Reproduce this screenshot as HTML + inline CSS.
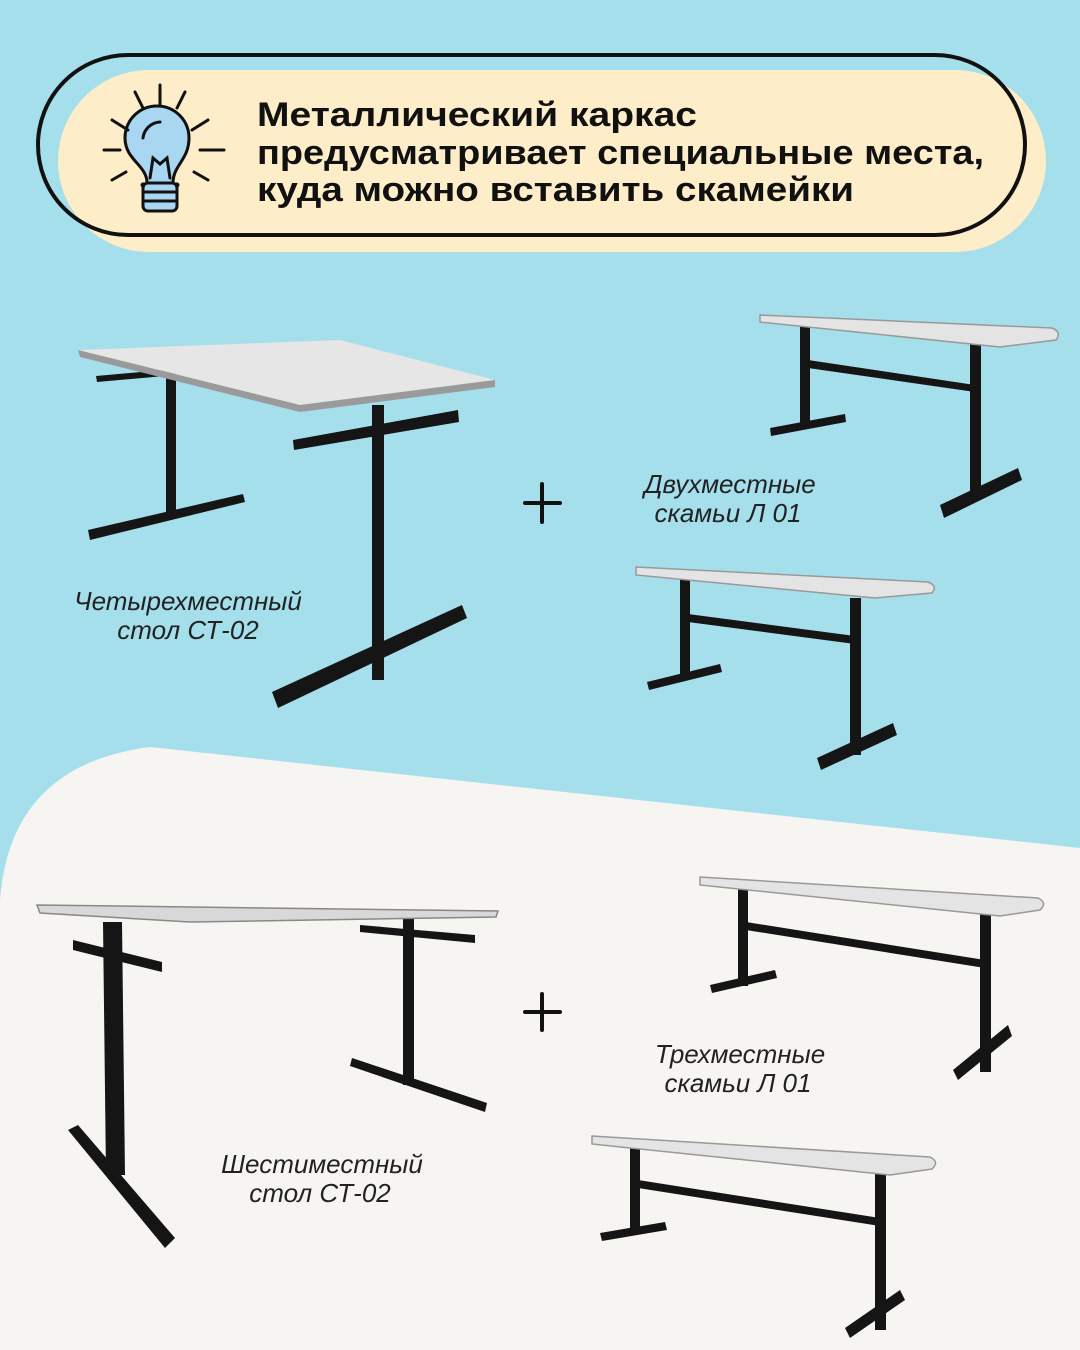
<!DOCTYPE html>
<html><head><meta charset="utf-8"><style>
html,body{margin:0;padding:0;width:1080px;height:1350px;overflow:hidden;background:#a6dfec;}
svg{display:block}
</style></head><body>
<svg width="1080" height="1350" viewBox="0 0 1080 1350" xmlns="http://www.w3.org/2000/svg">
<rect width="1080" height="1350" fill="#a6dfec"/>
<path d="M0,1350 L0,900 Q10,765 150,747 L1080,848 L1080,1350 Z" fill="#f6f5f2"/>
<!-- header -->
<rect x="58" y="70" width="988" height="182" rx="91" fill="#fdedc8"/>
<rect x="38" y="55" width="987" height="180" rx="90" fill="none" stroke="#111" stroke-width="4"/>
<g font-family="Liberation Sans, sans-serif" font-weight="bold" font-size="34" fill="#111">
<text x="257" y="126" textLength="440" lengthAdjust="spacingAndGlyphs">Металлический каркас</text>
<text x="257" y="164" textLength="727" lengthAdjust="spacingAndGlyphs">предусматривает специальные места,</text>
<text x="257" y="201" textLength="597" lengthAdjust="spacingAndGlyphs">куда можно вставить скамейки</text>
</g>
<!-- bulb -->
<g stroke="#111" stroke-width="3" fill="none" stroke-linecap="round">
<path d="M147,183 C147,165 125,160 125,138 A32,32 0 0 1 189,138 C189,160 173,165 173,183 Z" fill="#a9d6f0"/>
<path d="M143,185 h34 M145,195 h30 M148,205 h24" stroke-width="5"/>
<rect x="143" y="183" width="34" height="28" rx="5" fill="#a9d6f0"/>
<path d="M143,192 h34 M143,201 h34"/>
<path d="M150,178 L153,158 L160,164 L167,158 L170,178"/>
<path d="M143,138 A18,18 0 0 1 160,122"/>
<path d="M160,85 v20 M135,92 l8,16 M185,92 l-8,16 M112,120 l16,10 M208,120 l-16,10 M104,150 h16 M200,150 h24 M112,180 l14,-8 M208,180 l-14,-8"/>
</g>
<!-- table 1 -->
<g fill="#151515">
<polygon points="96,376 175,369 176,375 97,382"/>
<rect x="166" y="372" width="10" height="140"/>
<polygon points="88,530 243,494 245,502 90,540"/>
<polygon points="293,440 458,410 459,422 294,450"/>
<rect x="372" y="405" width="12" height="275"/>
<polygon points="272,692 462,605 467,618 278,708"/>
</g>
<polygon points="78,350 340,340 495,380 300,405" fill="#e6e6e6"/>
<polygon points="78,350 300,405 495,380 495,387 300,412 80,357" fill="#9a9a9a"/>
<!-- bench 1 -->
<g fill="#151515">
<rect x="800" y="322" width="10" height="105"/>
<polygon points="770,428 845,414 846,422 771,436"/>
<rect x="970" y="340" width="11" height="160"/>
<polygon points="940,505 1018,468 1022,480 944,518"/>
<polygon points="808,360 975,385 975,392 808,368"/>
</g>
<path d="M760,315 L1052,328 Q1062,332 1056,340 L1000,347 L760,322 Z" fill="#e4e4e4" stroke="#999" stroke-width="1.5"/>
<!-- bench 2 -->
<g fill="#151515">
<rect x="680" y="575" width="10" height="105"/>
<polygon points="647,682 720,664 722,672 649,690"/>
<rect x="850" y="598" width="11" height="157"/>
<polygon points="817,758 893,723 897,735 821,770"/>
<polygon points="688,614 855,636 855,644 688,622"/>
</g>
<path d="M636,567 L928,582 Q938,586 932,593 L875,598 L636,575 Z" fill="#e4e4e4" stroke="#999" stroke-width="1.5"/>
<!-- table 2 -->
<g fill="#151515">
<polygon points="73,940 162,962 162,972 73,950"/>
<polygon points="103,922 122,922 125,1175 106,1175"/>
<polygon points="68,1130 78,1125 175,1238 165,1248"/>
<polygon points="360,925 475,935 475,943 360,932"/>
<rect x="403" y="918" width="11" height="167"/>
<polygon points="352,1058 487,1103 485,1112 350,1066"/>
</g>
<path d="M37,905 L498,911 L496,917 L190,922 L40,913 Z" fill="#d8d8d8" stroke="#888" stroke-width="1.5"/>
<!-- bench 3 -->
<g fill="#151515">
<rect x="738" y="888" width="10" height="98"/>
<polygon points="710,985 775,970 777,978 712,993"/>
<rect x="980" y="912" width="11" height="160"/>
<polygon points="953,1070 1008,1025 1012,1036 958,1080"/>
<polygon points="746,922 985,960 985,968 746,930"/>
</g>
<path d="M700,877 L1038,898 Q1048,903 1040,910 L1000,916 L700,885 Z" fill="#e4e4e4" stroke="#999" stroke-width="1.5"/>
<!-- bench 4 -->
<g fill="#151515">
<rect x="630" y="1145" width="10" height="88"/>
<polygon points="600,1233 665,1222 667,1230 602,1241"/>
<rect x="875" y="1170" width="11" height="160"/>
<polygon points="845,1328 900,1290 905,1300 850,1338"/>
<polygon points="638,1180 880,1218 880,1226 638,1188"/>
</g>
<path d="M592,1136 L930,1157 Q940,1162 932,1169 L890,1175 L592,1144 Z" fill="#e4e4e4" stroke="#999" stroke-width="1.5"/>
<!-- plus -->
<g stroke="#111" stroke-width="4" stroke-linecap="round">
<path d="M542,484 v38 M525,503 h35"/>
<path d="M542,994 v36 M525,1012 h35"/>
</g>
<!-- labels -->
<g font-family="Liberation Sans, sans-serif" font-style="italic" font-size="26" fill="#222" text-anchor="middle">
<text x="188" y="610">Четырехместный</text>
<text x="188" y="639">стол СТ-02</text>
<text x="730" y="493">Двухместные</text>
<text x="728" y="522">скамьи Л 01</text>
<text x="740" y="1063">Трехместные</text>
<text x="738" y="1092">скамьи Л 01</text>
<text x="322" y="1173">Шестиместный</text>
<text x="320" y="1202">стол СТ-02</text>
</g>
</svg>
</body></html>
